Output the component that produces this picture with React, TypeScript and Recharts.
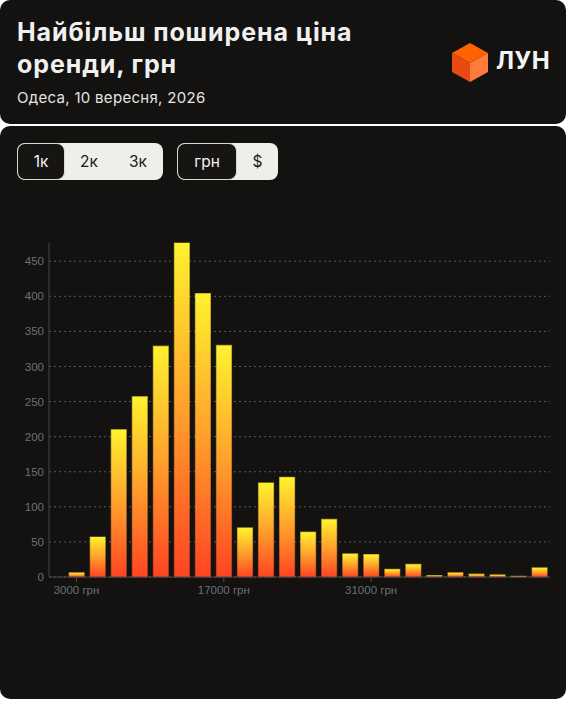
import { BarChart, Bar, XAxis, YAxis, CartesianGrid } from 'recharts';

const prices = [
  3000, 5000, 7000, 9000, 11000, 13000, 15000, 17000, 19000, 21000, 23000, 25000,
  27000, 29000, 31000, 33000, 35000, 37000, 39000, 41000, 43000, 45000, 47000
];
const counts = [6, 57, 210, 257, 329, 476, 404, 330, 70, 134, 142, 64, 82, 33, 32, 11, 18, 2, 6, 4, 3, 1, 13];
const yTicks = [0, 50, 100, 150, 200, 250, 300, 350, 400, 450];
const xTicks = [3000, 17000, 31000];
const roomOptions = ['1к', '2к', '3к'];
const currencyOptions = ['грн', '$'];

const data = prices.map((price, i) => ({ price, count: counts[i] }));

const cardBg = '#131211';
const sans = 'Inter, "Noto Sans", sans-serif';
const tickStyle = { fill: '#6f6f77', fontSize: 11.5, fontFamily: '"Liberation Sans", Arial, sans-serif' };

const Toggle: React.FC<{ items: string[]; left: number; widths: number[] }> = ({ items, left, widths }) => {
  const total = widths.reduce((a, b) => a + b, 0);
  return (
    <div
      style={{
        position: 'absolute',
        left,
        top: 143,
        width: total,
        height: 37,
        background: '#eeeeea',
        borderRadius: 8,
        display: 'flex',
        overflow: 'hidden',
      }}
    >
      {items.map((label, i) => (
        <div
          key={label}
          style={{
            width: widths[i],
            height: 37,
            boxSizing: 'border-box',
            display: 'flex',
            alignItems: 'center',
            justifyContent: 'center',
            fontFamily: sans,
            fontSize: 15.5,
            color: i === 0 ? '#f2f2f2' : '#1a1a1a',
            background: i === 0 ? '#161514' : 'transparent',
            border: i === 0 ? '1.5px solid #d8d8d4' : 'none',
            borderRadius: 8,
          }}
        >
          {label}
        </div>
      ))}
    </div>
  );
};

const App: React.FC = () => {
  return (
    <div style={{ position: 'relative', width: 566, height: 701, background: '#ffffff', overflow: 'hidden' }}>
      <style>{'body{margin:0;background:#fff;}'}</style>

      {/* header card */}
      <div style={{ position: 'absolute', left: 0, top: 0, width: 566, height: 124, background: cardBg, borderRadius: 10 }}>
        <div
          style={{
            position: 'absolute',
            left: 17,
            top: 16,
            width: 420,
            fontFamily: sans,
            fontWeight: 700,
            fontSize: 25,
            letterSpacing: 0.9,
            lineHeight: '32px',
            color: '#f0f0ee',
          }}
        >
          Найбільш поширена ціна
          <br />
          оренди, грн
        </div>
        <div
          style={{
            position: 'absolute',
            left: 17,
            top: 88,
            fontFamily: sans,
            fontSize: 15,
            letterSpacing: 0.3,
            color: '#e4e4e2',
          }}
        >
          Одеса, 10 вересня, 2026
        </div>
        <svg style={{ position: 'absolute', left: 452, top: 43 }} width={38} height={40} viewBox="0 0 38 40">
          <polygon points="18,0 36,10 18,20 0,10" fill="#ff6200" />
          <polygon points="0,10 18,20 18,39 0,29" fill="#e84a12" />
          <polygon points="18,20 36,10 36,29 18,39" fill="#ff7b3c" />
        </svg>
        <div
          style={{
            position: 'absolute',
            left: 496,
            top: 46,
            fontFamily: sans,
            fontWeight: 700,
            fontSize: 24,
            color: '#f4f4f2',
            letterSpacing: 0.5,
          }}
        >
          ЛУН
        </div>
      </div>

      {/* chart card */}
      <div style={{ position: 'absolute', left: 0, top: 126, width: 566, height: 573, background: cardBg, borderRadius: 10 }} />

      <Toggle items={roomOptions} left={17} widths={[48, 48, 50]} />
      <Toggle items={currencyOptions} left={177} widths={[60, 41]} />

      <div style={{ position: 'absolute', left: 0, top: 232 }}>
        <BarChart
          width={566}
          height={370}
          data={data}
          margin={{ top: 11, right: 16, bottom: 0, left: 0 }}
          barCategoryGap="15%"
        >
          <defs>
            <linearGradient id="barGrad" x1="0" y1="0" x2="0" y2="1">
              <stop offset="0%" stopColor="#fff22e" />
              <stop offset="50%" stopColor="#ffa02c" />
              <stop offset="100%" stopColor="#ff4422" />
            </linearGradient>
          </defs>
          <CartesianGrid horizontal vertical={false} syncWithTicks stroke="#5a5a62" strokeDasharray="2 3" />
          <XAxis
            dataKey="price"
            type="category"
            ticks={xTicks}
            interval={0}
            tickFormatter={(v) => `${v} грн`}
            padding={{ left: 17, right: 0 }}
            stroke="#47474e"
            tick={tickStyle}
            tickSize={5}
            tickMargin={4}
            height={25}
          />
          <YAxis
            domain={[0, 'dataMax']}
            ticks={yTicks}
            width={49}
            stroke="#47474e"
            tick={tickStyle}
            tickLine={false}
            tickSize={3}
            tickMargin={2}
          />
          <Bar
            dataKey="count"
            fill="url(#barGrad)"
            stroke="url(#barGrad)"
            strokeOpacity={0.5}
            strokeWidth={1.2}
            isAnimationActive={false}
          />
        </BarChart>
      </div>
    </div>
  );
};

export default App;
